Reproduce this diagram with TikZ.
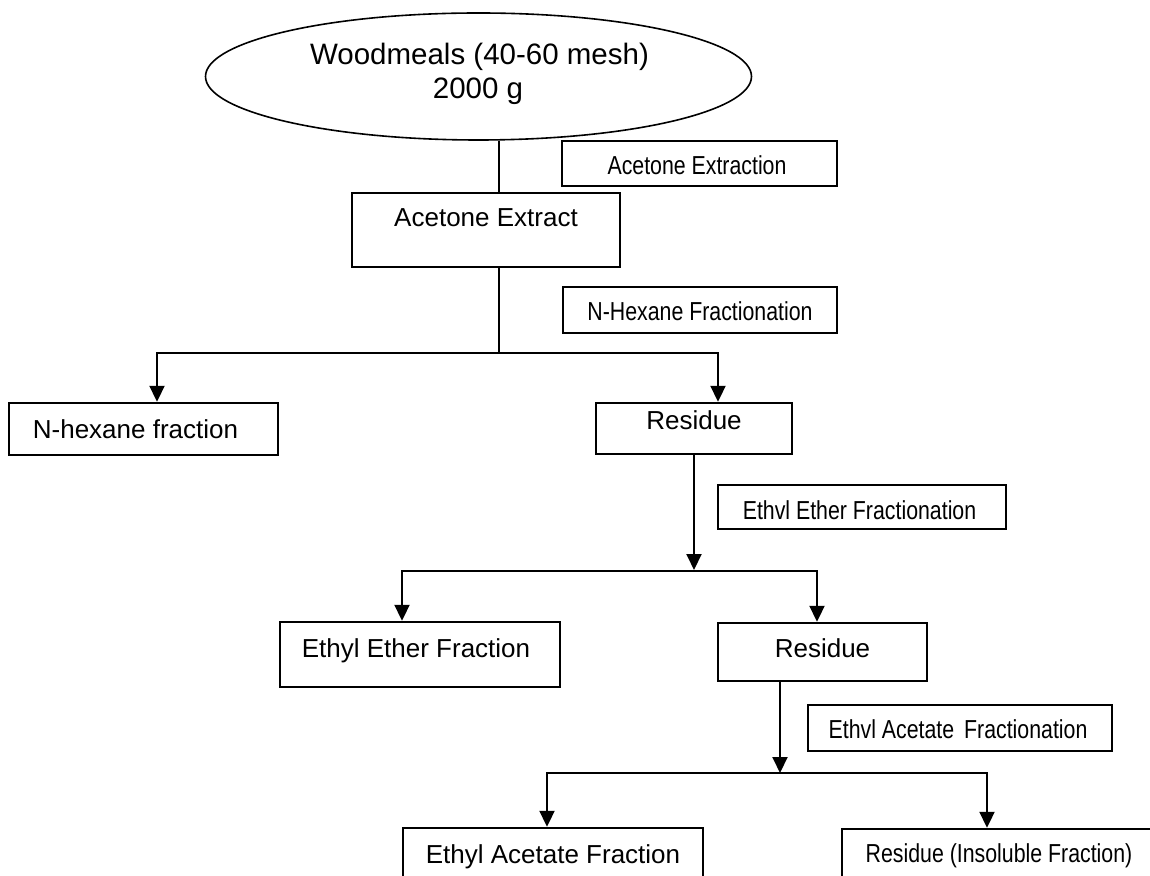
\documentclass[tikz,border=0pt]{standalone}
\usepackage{fontspec}
\setmainfont{Liberation Sans}
\newfontfamily\narrowfont[FakeStretch=0.82]{Liberation Sans}
\usetikzlibrary{shapes.geometric,arrows.meta}
\begin{document}
\begin{tikzpicture}[x=0.5pt,y=-0.5pt,
  box/.style={draw,line width=1.2pt,inner sep=0pt,rectangle},
  main/.style={font=\fontsize{13}{15}\selectfont,anchor=base,inner sep=0pt},
  lab/.style={font=\narrowfont\fontsize{13}{15}\selectfont,anchor=base,inner sep=0pt},
  big/.style={font=\fontsize{14.75}{17}\selectfont,anchor=base,inner sep=0pt},
  conn/.style={line width=1pt},
  arr/.style={line width=1pt,-{Triangle[length=8pt,width=7.5pt]}}]
\useasboundingbox (0,0) rectangle (1150,876);

% top ellipse
\node[ellipse,draw,line width=0.8pt,minimum width=273pt,minimum height=63.5pt,inner sep=0pt] (ell) at (478.5,76.5) {};
\node[big] (w1) at (479.5,65) {Woodmeals (40-60 mesh)};
\node[big] (w2) at (478,99) {2000 g};

% boxes
\node[box,minimum width=134pt,minimum height=37pt] (ae) at (486,230) {};
\node[main] (aet) at (486,227) {Acetone Extract};
\node[box,minimum width=137.5pt,minimum height=22.5pt] (aex) at (699.5,163.5) {};
\node[lab] (aext) at (697,175) {Acetone Extraction};
\node[box,minimum width=137pt,minimum height=23pt] (nhf) at (700,310) {};
\node[lab] (nhft) at (700,321) {N-Hexane Fractionation};
\node[box,minimum width=134.5pt,minimum height=26pt] (nh) at (143.5,429) {};
\node[main] (nht) at (135.5,439) {N-hexane fraction};
\node[box,minimum width=98pt,minimum height=25.5pt] (r1) at (694,428.5) {};
\node[main] (r1t) at (694,430) {Residue};
\node[box,minimum width=144pt,minimum height=22pt] (eef) at (862,507) {};
\node[lab] (eeft) at (859.5,519) {Ethvl Ether Fractionation};
\node[box,minimum width=140pt,minimum height=32.5pt] (ee) at (420,654.5) {};
\node[main] (eet) at (416,657) {Ethyl Ether Fraction};
\node[box,minimum width=104.5pt,minimum height=29pt] (r2) at (822.5,652) {};
\node[main] (r2t) at (822.5,657) {Residue};
\node[box,minimum width=152pt,minimum height=23pt] (eaf) at (960,728) {};
\node[lab] (eaft) at (958,738) {Ethvl Acetate\hspace{2pt} Fractionation};
\node[box,minimum width=150pt,minimum height=40pt] (ea) at (553,868) {};
\node[main] (eat) at (553,863) {Ethyl Acetate Fraction};
\node[box,minimum width=170pt,minimum height=40pt] (ri) at (1012,869) {};
\node[lab] (rit) at (999,862) {Residue (Insoluble Fraction)};

% connectors
\coordinate (s0) at (499,140);
\draw[conn] (ell.south -| s0) -- (ae.north -| s0);
\coordinate (j1) at (499,353);
\coordinate (l1) at (157,353);
\coordinate (k1) at (718,353);
\draw[conn] (ae.south -| j1) -- (j1);
\draw[arr] (j1) -| (nh.north -| l1);
\draw[arr] (j1) -| (r1.north -| k1);

\coordinate (j2) at (694,571);
\coordinate (l2) at (402,571);
\coordinate (k2) at (817,571);
\draw[arr] (r1.south) -- (0,570 -| j2);
\draw[arr] (j2) -| (ee.north -| l2);
\draw[arr] (j2) -| (r2.north -| k2);

\coordinate (j3) at (780,773);
\coordinate (l3) at (547,773);
\coordinate (k3) at (987,773);
\draw[arr] (r2.south -| j3) -- (j3);
\draw[arr] (j3) -| (ea.north -| l3);
\draw[arr] (j3) -| (ri.north -| k3);
\end{tikzpicture}
\end{document}
